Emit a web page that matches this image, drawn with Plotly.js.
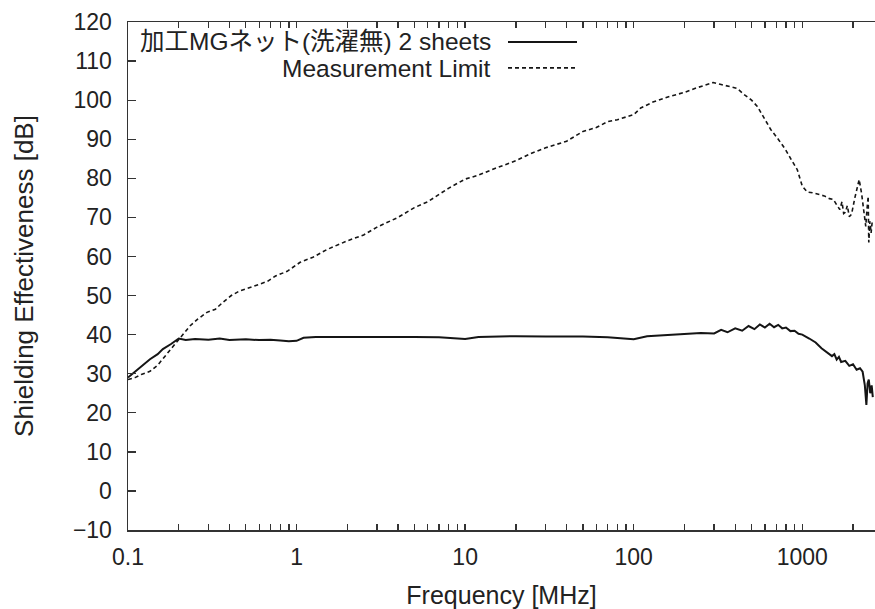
<!DOCTYPE html>
<html>
<head>
<meta charset="utf-8">
<script src="https://cdn.plot.ly/plotly-3.0.1.min.js"></script>
<style>html,body{margin:0;padding:0;background:#fff;overflow:hidden}#chart{width:875px;height:609px}</style>
</head>
<body>
<div id="chart"></div>
<script>
// Series 1: 加工MGネット(洗濯無) 2 sheets
var sheetsFreq = [0.1,0.11,0.12,0.135,0.15,0.161,0.18,0.2,0.22,0.25,0.3,0.35,0.4,0.5,0.6,0.7,0.8,0.9,1.0,1.1,1.3,2,3,5,7,10,12,20,30,50,70,100,120,150,200,250,300,330,360,400,440,480,520,560,600,640,680,720,760,800,850,900,950,1000,1100,1200,1300,1400,1500,1550,1600,1650,1700,1800,1900,2000,2100,2200,2280,2350,2400,2440,2480,2530,2580,2620];
var sheetsSE = [29.0,30.5,32.0,33.7,35.0,36.3,37.6,39.0,38.6,38.9,38.7,39.0,38.6,38.8,38.6,38.7,38.5,38.3,38.4,39.2,39.4,39.4,39.5,39.4,39.3,38.9,39.4,39.6,39.5,39.5,39.3,38.8,39.6,39.8,40.2,40.4,40.3,41.2,40.6,41.6,41.0,42.2,41.4,42.6,41.8,42.8,41.9,42.5,41.6,41.8,40.9,41.0,40.2,40.0,39.0,38.0,36.5,35.5,34.5,35.0,33.6,34.3,33.0,33.3,32.0,32.4,31.0,31.4,30.5,27.0,22.0,27.5,28.5,25.0,27.0,24.0];

// Series 2: Measurement Limit
var limitFreq = [0.1,0.11,0.12,0.135,0.15,0.166,0.18,0.2,0.233,0.26,0.294,0.33,0.366,0.41,0.46,0.55,0.67,0.75,0.88,1.05,1.25,1.52,2,2.5,3,4,5,6,7,8,10,12,15,20,25,30,40,50,60,70,80,100,110,130,165,200,238,270,296,330,370,411,450,500,541,589,650,720,794,860,934,1000,1070,1150,1228,1350,1450,1528,1600,1670,1720,1760,1800,1850,1900,1960,2050,2175,2250,2330,2380,2420,2460,2480,2520,2560,2600];
var limitSE = [28.5,29.0,29.8,30.6,32.2,34.5,36.5,38.8,42.2,44.0,45.7,46.5,48.3,50.0,51.2,52.3,53.6,55.0,56.2,58.5,59.8,61.8,64.0,65.5,67.5,70.0,72.5,74.0,76.0,77.5,79.8,80.8,82.5,84.5,86.5,87.8,89.5,92.0,93.0,94.5,95.0,96.3,98.0,99.5,101.0,102.0,103.2,104.0,104.5,104.0,103.5,103.0,101.5,100.0,98.4,95.5,92.5,90.0,87.4,84.8,82.2,78.0,76.5,76.3,75.9,75.5,74.8,74.6,73.2,72.0,74.0,71.0,71.3,73.0,70.2,70.8,75.0,79.7,76.0,70.0,67.7,72.0,75.4,63.6,69.0,66.0,69.0];

var seriesNames = ['加工MGネット(洗濯無) 2 sheets', 'Measurement Limit'];

// Axis ticks
var xTickVals = [];
var xTickText = [];
var decades = [0.1, 1, 10, 100, 1000];
var decadeLabels = ['0.1', '1', '10', '100', '1000'];
decades.forEach(function (d, i) {
  for (var m = 1; m <= 9; m++) {
    xTickVals.push(d * m);
    xTickText.push(m === 1 ? decadeLabels[i] : '');
  }
});
var yTickVals = [-10,0,10,20,30,40,50,60,70,80,90,100,110,120];

var FONT = 'Liberation Sans, Arial, "Noto Sans CJK JP", sans-serif';

var traces = [
  {x: sheetsFreq, y: sheetsSE, type: 'scatter', mode: 'lines', name: seriesNames[0],
   line: {color: '#151515', width: 2}},
  {x: limitFreq, y: limitSE, type: 'scatter', mode: 'lines', name: seriesNames[1],
   line: {color: '#151515', width: 1.6, dash: '4px,3px'}}
];

var layout = {
  width: 875, height: 609,
  margin: {l: 128, r: 0, t: 22, b: 79},
  paper_bgcolor: '#fff', plot_bgcolor: '#fff',
  showlegend: false,
  font: {family: FONT, size: 23, color: '#222'},
  xaxis: {
    type: 'log', range: [-1, Math.log10(2700)],
    tickmode: 'array', tickvals: xTickVals, ticktext: xTickText,
    ticks: 'inside', ticklen: 6, tickwidth: 1.3, tickcolor: '#333',
    showline: true, linecolor: '#333', linewidth: 1.5, mirror: 'ticks',
    showgrid: false, zeroline: false, ticklabelstandoff: 6,
    tickfont: {family: FONT, size: 23, color: '#222'},
    title: {text: 'Frequency [MHz]', standoff: 19, font: {family: FONT, size: 25, color: '#222'}}
  },
  yaxis: {
    range: [-10, 120], tickmode: 'array', tickvals: yTickVals,
    ticks: 'inside', ticklen: 8, tickwidth: 1.3, tickcolor: '#333',
    showline: true, linecolor: '#333', linewidth: 1.5,
    showgrid: false, zeroline: false, ticklabelstandoff: 10,
    tickfont: {family: FONT, size: 23, color: '#222'},
    title: {text: 'Shielding Effectiveness [dB]', standoff: 32, font: {family: FONT, size: 26, color: '#222'}}
  },
  annotations: [
    {xref: 'paper', yref: 'paper', x: (493 - 128) / 747, y: 1 - (42 - 22) / 509, xanchor: 'right', yanchor: 'middle',
     text: seriesNames[0], showarrow: false, font: {family: FONT, size: 24.5, color: '#222'}},
    {xref: 'paper', yref: 'paper', x: (493 - 128) / 747, y: 1 - (69 - 22) / 509, xanchor: 'right', yanchor: 'middle',
     text: seriesNames[1], showarrow: false, font: {family: FONT, size: 24.5, color: '#222'}}
  ],
  shapes: [
    {type: 'line', xref: 'paper', yref: 'paper', x0: (508 - 128) / 747, x1: (577 - 128) / 747,
     y0: 1 - (42 - 22) / 509, y1: 1 - (42 - 22) / 509, line: {color: '#151515', width: 2}},
    {type: 'line', xref: 'paper', yref: 'paper', x0: (508 - 128) / 747, x1: (577 - 128) / 747,
     y0: 1 - (68 - 22) / 509, y1: 1 - (68 - 22) / 509, line: {color: '#151515', width: 1.6, dash: '4px,3px'}}
  ]
};

Plotly.newPlot('chart', traces, layout, {staticPlot: true, displayModeBar: false});
</script>
</body>
</html>
